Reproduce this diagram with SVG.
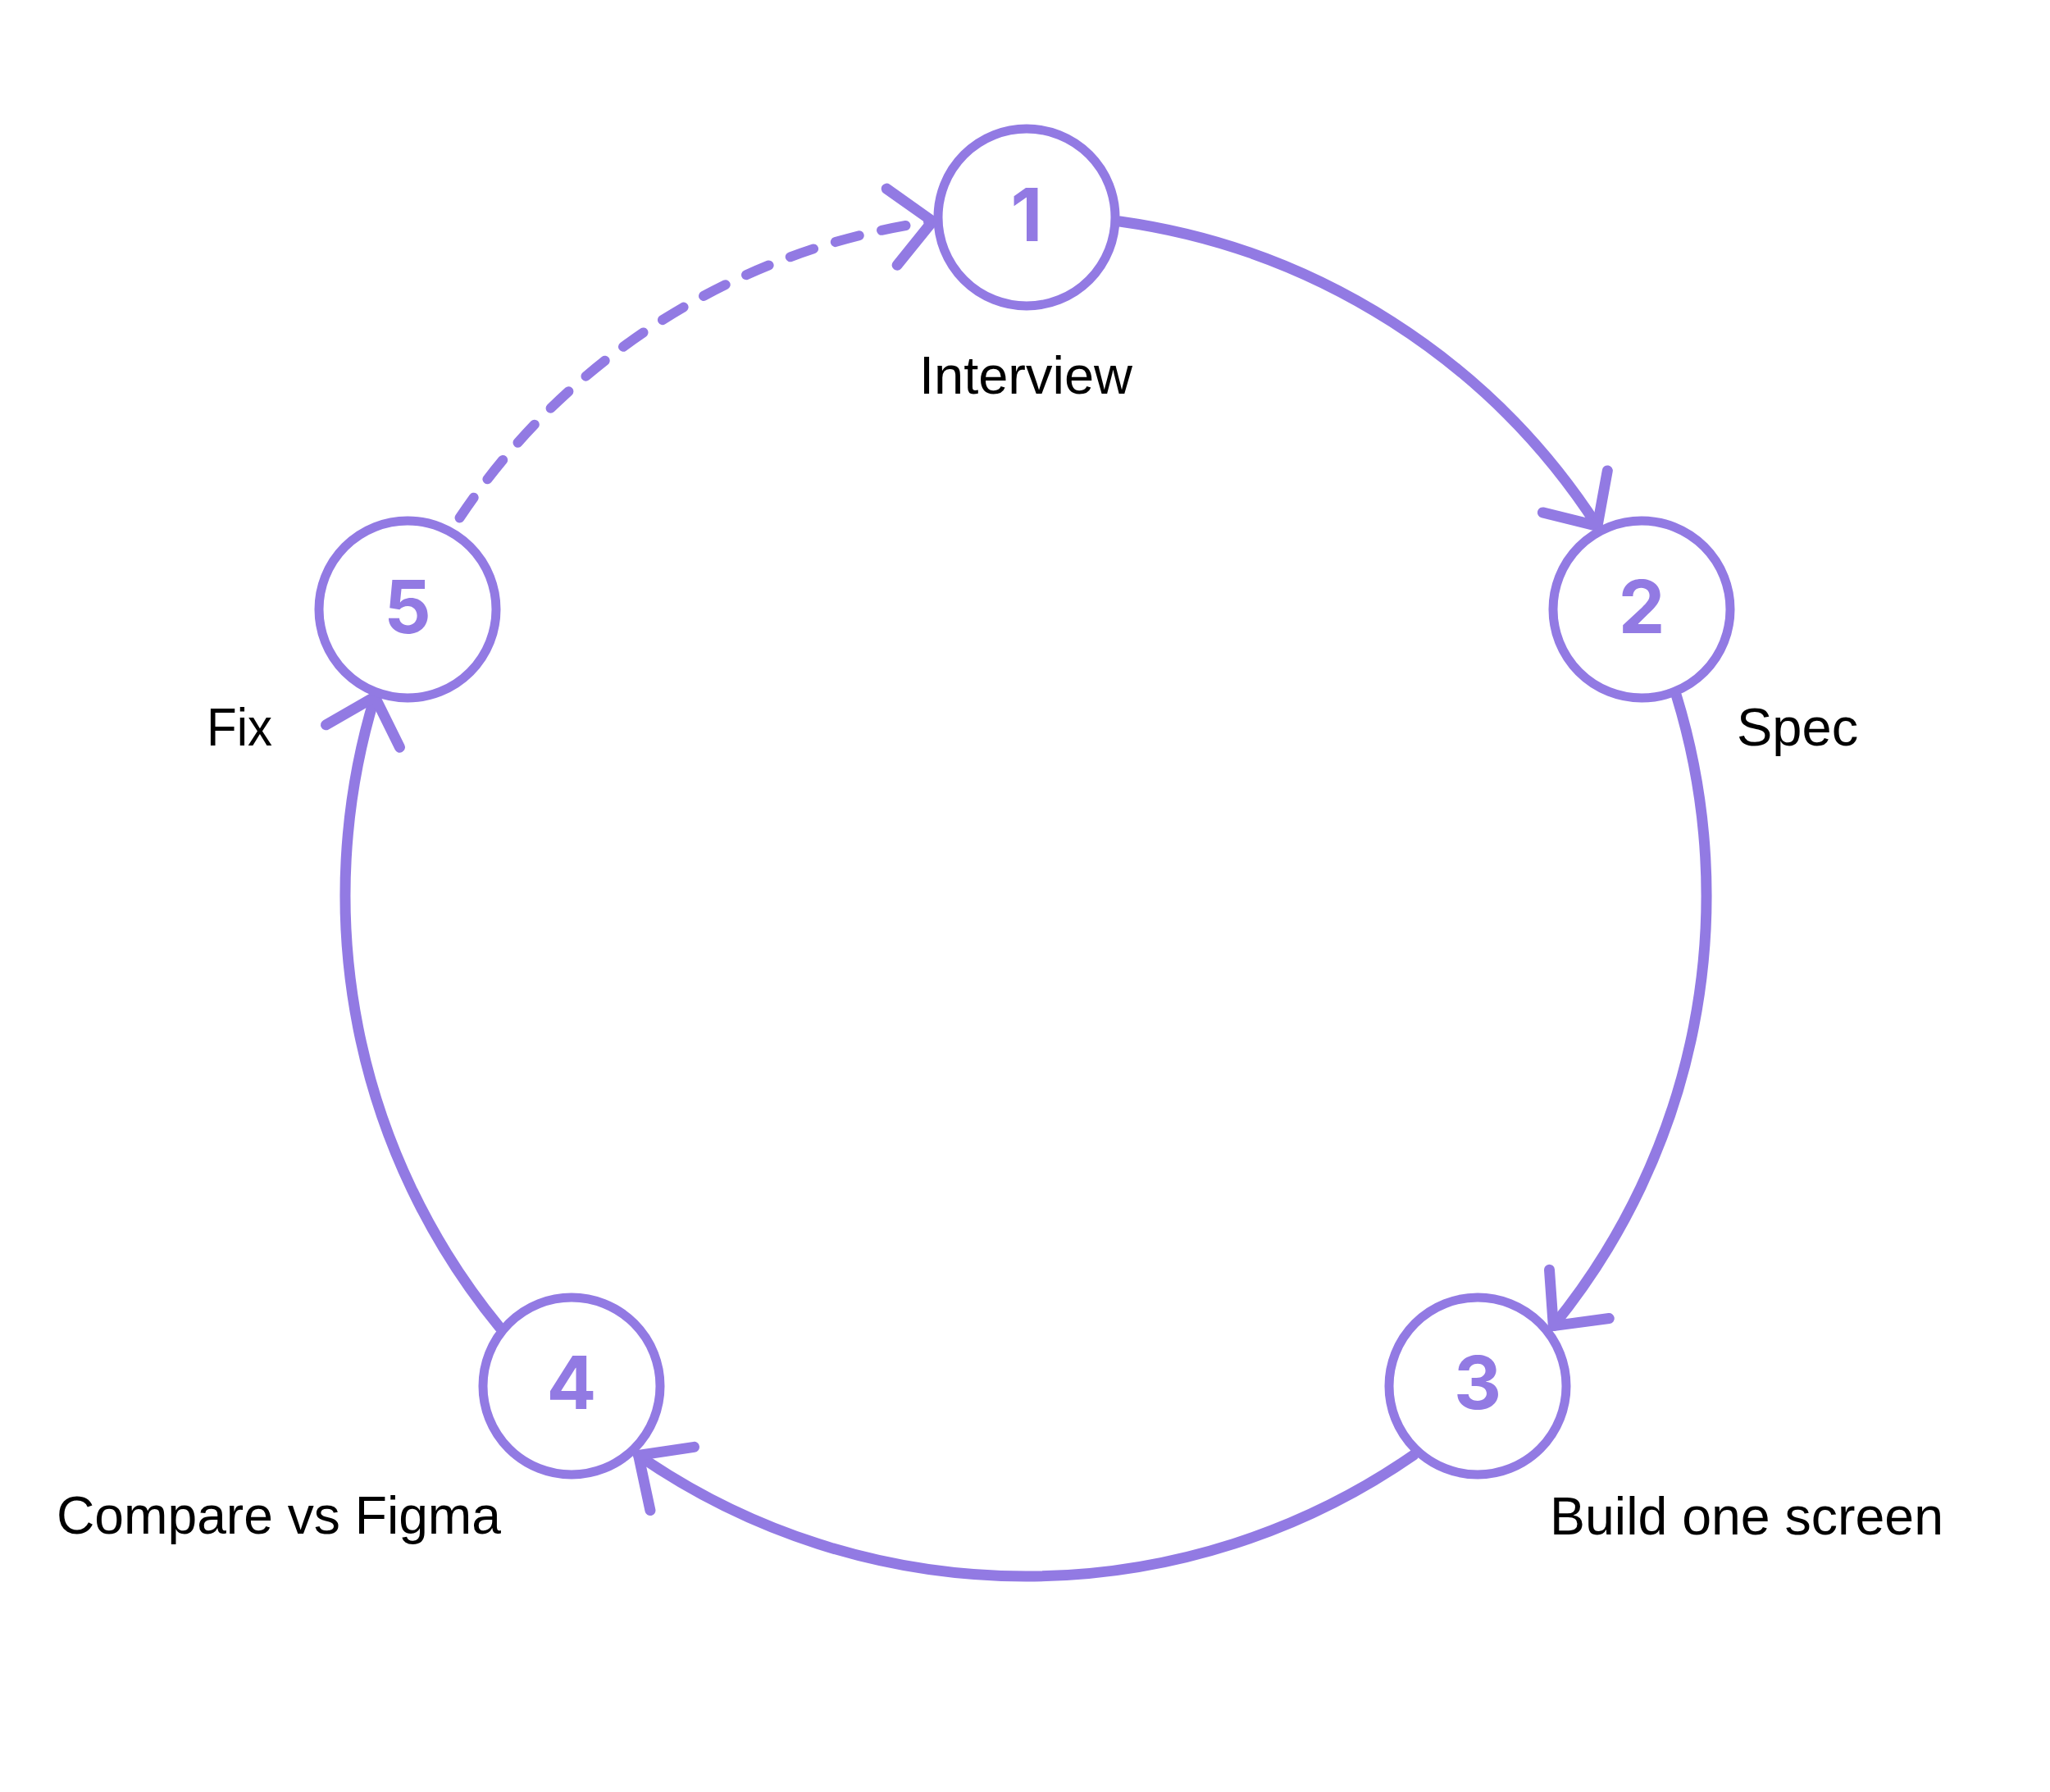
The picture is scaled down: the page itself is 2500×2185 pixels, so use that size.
<svg xmlns="http://www.w3.org/2000/svg" width="2500" height="2185" viewBox="0 0 2500 2185">
  <style>
    .ring { fill: #ffffff; stroke: #927AE3; stroke-width: 11; }
    .num { font-family: Inter, "Liberation Sans", sans-serif; font-weight: 700; font-size: 90px; fill: #927AE3; text-anchor: middle; }
    .label { font-family: "Liberation Sans", Arial, sans-serif; font-size: 65px; fill: #000000; }
    .conn { fill: none; stroke: #927AE3; stroke-width: 13; stroke-linecap: round; }
    .dashed { stroke-width: 12; stroke-dasharray: 30 28; stroke-dashoffset: 46; }
  </style>
  <defs>
    <marker id="arrow" markerUnits="userSpaceOnUse" viewBox="-70 -70 90 140" markerWidth="90" markerHeight="140" refX="0" refY="0" orient="auto" overflow="visible">
      <path d="M -50 -47 L 0 0 L -50 47" fill="none" stroke="#927AE3" stroke-width="13" stroke-linecap="round" stroke-linejoin="round"/>
    </marker>
  </defs>
  <rect width="2500" height="2185" fill="#ffffff"/>

  <g id="connectors">
    <path id="c1-2" class="conn" d="M 1365.6 270 A 830 830 0 0 1 1948 641.4" marker-end="url(#arrow)"/>
    <path id="c2-3" class="conn" d="M 2044.4 848.2 A 830 830 0 0 1 1894.3 1616.6" marker-end="url(#arrow)"/>
    <path id="c3-4" class="conn" d="M 1723.9 1774.1 A 830 830 0 0 1 778.6 1774.5" marker-end="url(#arrow)"/>
    <path id="c4-5" class="conn" d="M 609.3 1618.4 A 830 830 0 0 1 457.1 849.7" marker-end="url(#arrow)"/>
    <path id="c5-1" class="conn dashed" d="M 554 641.4 A 830 830 0 0 1 1137.2 269.8" marker-end="url(#arrow)"/>
  </g>

  <g id="node1">
    <circle class="ring" cx="1252" cy="265" r="108"/>
    <text class="num" x="1252" y="294">1</text>
    <text class="label" x="1251" y="480" text-anchor="middle">Interview</text>
  </g>
  <g id="node2">
    <circle class="ring" cx="2002" cy="743" r="108"/>
    <text class="num" x="2002" y="772">2</text>
    <text class="label" x="2118" y="909">Spec</text>
  </g>
  <g id="node3">
    <circle class="ring" cx="1802" cy="1690" r="108"/>
    <text class="num" x="1802" y="1718">3</text>
    <text class="label" x="1890" y="1871" textLength="480" lengthAdjust="spacingAndGlyphs">Build one screen</text>
  </g>
  <g id="node4">
    <circle class="ring" cx="697" cy="1690" r="108"/>
    <text class="num" x="697" y="1718">4</text>
    <text class="label" x="69" y="1870" textLength="542" lengthAdjust="spacingAndGlyphs">Compare vs Figma</text>
  </g>
  <g id="node5">
    <circle class="ring" cx="497" cy="743" r="108"/>
    <text class="num" x="497" y="772">5</text>
    <text class="label" x="252" y="909" textLength="80" lengthAdjust="spacingAndGlyphs">Fix</text>
  </g>
</svg>
